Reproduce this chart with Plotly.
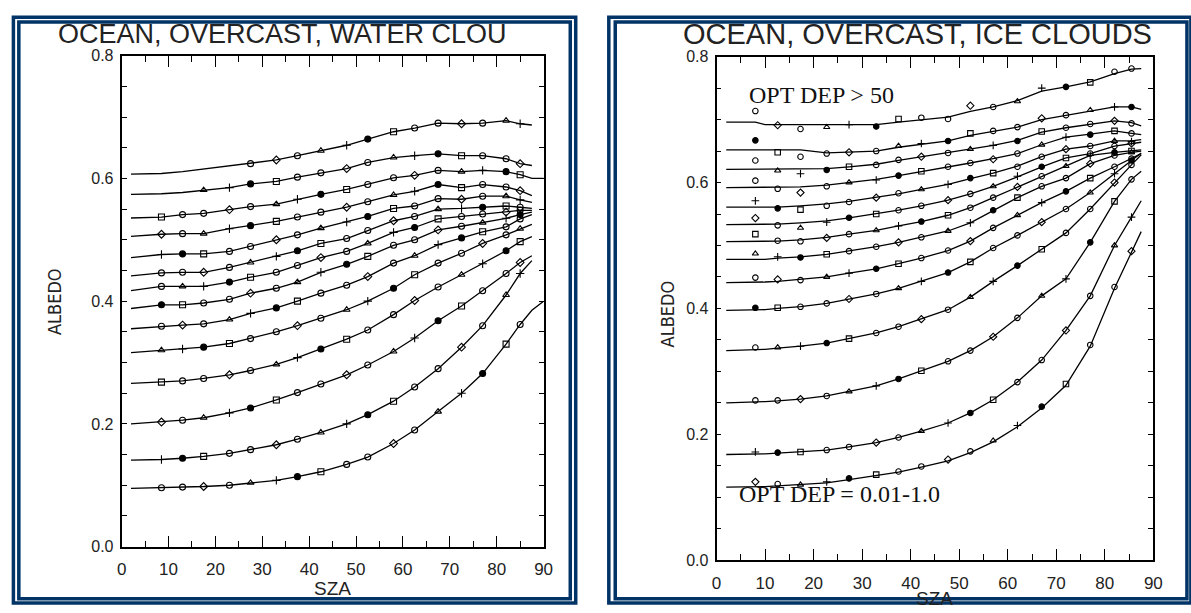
import plotly.graph_objects as go

W, H = 1191, 613

# ---------------- data: left panel (water cloud) ----------------
LEFT_SZA = [2, 8.5, 13, 17.5, 23, 27.5, 33, 37.5, 42.5, 48, 52.5, 58, 62.5, 67.5, 72.5, 77, 82, 85, 87.5, 90]
LEFT_CURVES = [
    [0.607, 0.608, 0.611, 0.615, 0.620, 0.624, 0.630, 0.637, 0.645, 0.654, 0.664, 0.676, 0.682, 0.690, 0.689, 0.690, 0.694, 0.689, 0.687, None],
    [0.574, 0.575, 0.577, 0.581, 0.585, 0.591, 0.595, 0.602, 0.609, 0.616, 0.626, 0.634, 0.637, 0.640, 0.637, 0.637, 0.632, 0.624, 0.621, None],
    [0.5355, 0.537, 0.541, 0.543, 0.549, 0.554, 0.558, 0.566, 0.574, 0.582, 0.590, 0.601, 0.605, 0.613, 0.611, 0.613, 0.611, 0.606, 0.600, 0.600],
    [0.5055, 0.509, 0.510, 0.510, 0.518, 0.523, 0.530, 0.537, 0.545, 0.553, 0.562, 0.573, 0.579, 0.590, 0.585, 0.590, 0.586, 0.580, 0.572, None],
    [0.471, 0.476, 0.477, 0.477, 0.481, 0.489, 0.500, 0.508, 0.519, 0.529, 0.538, 0.551, 0.555, 0.567, 0.566, 0.571, 0.571, 0.565, 0.561, None],
    [0.441, 0.446, 0.447, 0.447, 0.455, 0.463, 0.473, 0.482, 0.494, 0.502, 0.515, 0.531, 0.538, 0.550, 0.551, 0.553, 0.555, 0.553, 0.551, None],
    [0.417, 0.424, 0.424, 0.424, 0.431, 0.439, 0.447, 0.458, 0.471, 0.481, 0.494, 0.512, 0.520, 0.534, 0.538, 0.542, 0.545, 0.548, 0.548, None],
    [0.388, 0.394, 0.394, 0.397, 0.403, 0.413, 0.421, 0.431, 0.447, 0.460, 0.473, 0.491, 0.500, 0.516, 0.522, 0.528, 0.535, 0.541, 0.545, None],
    [0.355, 0.359, 0.361, 0.363, 0.370, 0.380, 0.389, 0.400, 0.413, 0.426, 0.440, 0.462, 0.474, 0.492, 0.503, 0.513, 0.521, 0.534, 0.541, None],
    [0.316, 0.320, 0.322, 0.325, 0.331, 0.339, 0.350, 0.360, 0.372, 0.386, 0.400, 0.421, 0.443, 0.462, 0.478, 0.494, 0.508, 0.518, 0.525, None],
    [0.266, 0.268, 0.270, 0.274, 0.280, 0.287, 0.297, 0.308, 0.322, 0.338, 0.353, 0.378, 0.401, 0.423, 0.443, 0.461, 0.482, 0.497, 0.505, None],
    [0.200, 0.203, 0.206, 0.210, 0.218, 0.226, 0.239, 0.251, 0.265, 0.280, 0.296, 0.318, 0.340, 0.368, 0.392, 0.417, 0.445, 0.463, 0.474, None],
    [0.141, 0.142, 0.144, 0.147, 0.152, 0.158, 0.166, 0.175, 0.186, 0.200, 0.215, 0.237, 0.260, 0.290, 0.325, 0.360, 0.410, 0.445, 0.466, None],
    [0.095, 0.096, 0.097, 0.098, 0.100, 0.104, 0.108, 0.114, 0.122, 0.134, 0.146, 0.168, 0.190, 0.220, 0.250, 0.282, 0.330, 0.362, 0.385, 0.400],
]
# index of the first SZA that carries a marker, per curve
LEFT_MARK_START = [5, 3, 1, 1, 1, 1, 1, 1, 1, 1, 1, 1, 1, 1]
LEFT_MARK_END = 18  # markers up to SZA 85

# ---------------- data: right panel (ice cloud) ----------------
RIGHT_SZA = [2, 8, 10, 12.6, 17.3, 22.7, 27.3, 32.9, 37.5, 42.2, 47.7, 52.3, 57, 62, 67, 72, 77, 82, 85.5, 87.5]
RIGHT_CURVES = [
    [0.696, 0.696, 0.692, 0.692, 0.692, 0.692, 0.692, 0.692, 0.696, 0.700, 0.704, 0.713, 0.720, 0.730, 0.745, 0.752, 0.760, 0.773, 0.780, 0.781],
    [0.652, 0.652, 0.652, 0.652, 0.652, 0.647, 0.648, 0.650, 0.656, 0.661, 0.666, 0.675, 0.681, 0.688, 0.700, 0.707, 0.714, 0.720, 0.720, 0.716],
    [0.621, 0.621, 0.621, 0.621, 0.621, 0.622, 0.625, 0.629, 0.635, 0.641, 0.647, 0.653, 0.659, 0.667, 0.680, 0.687, 0.693, 0.698, 0.695, 0.690],
    [0.592, 0.592, 0.592, 0.592, 0.593, 0.596, 0.600, 0.605, 0.611, 0.617, 0.624, 0.631, 0.638, 0.646, 0.660, 0.672, 0.677, 0.682, 0.678, 0.676],
    [0.561, 0.561, 0.561, 0.561, 0.563, 0.566, 0.570, 0.576, 0.582, 0.589, 0.597, 0.606, 0.615, 0.626, 0.641, 0.653, 0.658, 0.666, 0.666, 0.668],
    [0.533, 0.533, 0.533, 0.534, 0.536, 0.539, 0.544, 0.550, 0.556, 0.563, 0.572, 0.582, 0.594, 0.609, 0.625, 0.639, 0.646, 0.658, 0.662, 0.664],
    [0.506, 0.506, 0.506, 0.507, 0.509, 0.513, 0.518, 0.524, 0.531, 0.538, 0.548, 0.560, 0.576, 0.593, 0.610, 0.626, 0.643, 0.648, 0.650, 0.652],
    [0.478, 0.478, 0.478, 0.480, 0.482, 0.486, 0.491, 0.498, 0.505, 0.513, 0.523, 0.536, 0.556, 0.576, 0.594, 0.607, 0.630, 0.643, 0.648, 0.650],
    [0.441, 0.441, 0.442, 0.443, 0.446, 0.450, 0.456, 0.463, 0.471, 0.480, 0.492, 0.507, 0.528, 0.548, 0.568, 0.586, 0.607, 0.625, 0.638, 0.646],
    [0.397, 0.397, 0.398, 0.400, 0.403, 0.408, 0.415, 0.423, 0.432, 0.443, 0.457, 0.474, 0.496, 0.516, 0.537, 0.558, 0.584, 0.614, 0.635, 0.647],
    [0.333, 0.334, 0.335, 0.337, 0.340, 0.345, 0.352, 0.361, 0.371, 0.383, 0.398, 0.418, 0.443, 0.468, 0.494, 0.520, 0.558, 0.600, 0.628, 0.644],
    [0.250, 0.251, 0.252, 0.253, 0.256, 0.261, 0.268, 0.277, 0.288, 0.301, 0.316, 0.333, 0.355, 0.385, 0.420, 0.447, 0.505, 0.570, 0.605, 0.618],
    [0.168, 0.168, 0.169, 0.170, 0.172, 0.175, 0.180, 0.187, 0.195, 0.205, 0.218, 0.234, 0.255, 0.283, 0.318, 0.365, 0.420, 0.500, 0.545, 0.571],
    [0.116, 0.116, 0.117, 0.118, 0.120, 0.123, 0.128, 0.134, 0.140, 0.148, 0.158, 0.171, 0.188, 0.212, 0.242, 0.278, 0.340, 0.432, 0.490, 0.522],
]
RIGHT_MARK_SZA = [8, 12.6, 17.3, 22.7, 27.3, 32.9, 37.5, 42.2, 47.7, 52.3, 57, 62, 67, 72, 77, 82, 85.5]
RIGHT_MARKS = [
    [0.7135, 0.691, 0.685, 0.688, 0.692, 0.689, 0.701, 0.703, 0.701, 0.722, 0.720, 0.729, 0.750, 0.752, 0.759, 0.776, 0.781],
    [0.667, 0.648, 0.641, 0.646, 0.648, 0.650, 0.658, 0.662, 0.666, 0.678, 0.682, 0.688, 0.702, 0.707, 0.715, 0.720, 0.720],
    [0.635, 0.619, 0.614, 0.620, 0.625, 0.628, 0.636, 0.641, 0.647, 0.653, 0.659, 0.666, 0.681, 0.687, 0.693, 0.698, 0.694],
    [0.603, 0.590, 0.584, 0.594, 0.600, 0.604, 0.611, 0.618, 0.625, 0.631, 0.637, 0.646, 0.660, 0.672, 0.676, 0.682, 0.678],
    [0.571, 0.559, 0.557, 0.563, 0.569, 0.576, 0.583, 0.589, 0.597, 0.607, 0.615, 0.625, 0.641, 0.653, 0.658, 0.666, 0.665],
    [0.5436, 0.532, 0.528, 0.537, 0.544, 0.550, 0.556, 0.563, 0.572, 0.582, 0.594, 0.610, 0.625, 0.639, 0.646, 0.658, 0.662],
    [0.518, 0.5076, 0.5066, 0.512, 0.518, 0.524, 0.531, 0.538, 0.548, 0.560, 0.576, 0.593, 0.610, 0.626, 0.643, 0.648, 0.650],
    [0.487, 0.482, 0.481, 0.486, 0.491, 0.498, 0.505, 0.513, 0.523, 0.536, 0.556, 0.576, 0.594, 0.607, 0.630, 0.643, 0.648],
    [0.449, 0.446, 0.445, 0.450, 0.456, 0.463, 0.471, 0.480, 0.492, 0.507, 0.528, 0.548, 0.568, 0.586, 0.607, 0.625, 0.638],
    [0.401, 0.401, 0.4026, 0.408, 0.415, 0.423, 0.432, 0.443, 0.457, 0.474, 0.496, 0.516, 0.537, 0.558, 0.584, 0.614, 0.635],
    [0.338, 0.338, 0.340, 0.345, 0.352, 0.361, 0.371, 0.383, 0.398, 0.418, 0.443, 0.468, 0.494, 0.520, 0.558, 0.600, 0.628],
    [0.254, 0.254, 0.256, 0.261, 0.268, 0.277, 0.288, 0.301, 0.316, 0.333, 0.355, 0.385, 0.420, 0.447, 0.505, 0.570, 0.605],
    [0.172, 0.171, 0.172, 0.175, 0.180, 0.187, 0.195, 0.205, 0.218, 0.234, 0.255, 0.283, 0.318, 0.365, 0.420, 0.500, 0.545],
    [0.1245, 0.121, 0.120, 0.1245, 0.130, 0.136, 0.141, 0.149, 0.160, 0.173, 0.190, 0.214, 0.244, 0.280, 0.342, 0.434, 0.491],
]

X_TICKS = [0, 10, 20, 30, 40, 50, 60, 70, 80, 90]
Y_TICKS = [0.0, 0.2, 0.4, 0.6, 0.8]
Y_TICK_TEXT = ["0.0", "0.2", "0.4", "0.6", "0.8"]

LEFT_TITLE = "OCEAN, OVERCAST, WATER CLOU"
RIGHT_TITLE = "OCEAN, OVERCAST, ICE CLOUDS"
NOTE_TOP = "OPT DEP > 50"
NOTE_BOTTOM = "OPT DEP = 0.01-1.0"

# ---------------- styling ----------------
SYMS = ["circle-open", "diamond-open", "circle-open", "triangle-up-open",
        "cross-thin", "circle", "square-open", "circle-open"]
FRAME = "#003366"
SANS = "Liberation Sans, Arial, Helvetica, sans-serif"
NARROW = "Liberation Sans Narrow, DejaVu Sans Condensed, Liberation Sans, sans-serif"
SERIF = "Liberation Serif, Times New Roman, serif"
INK = "#222"


def px(x):
    return x / W


def py(y):
    return 1 - y / H


fig = go.Figure()

for i, ys in enumerate(LEFT_CURVES):
    fig.add_trace(go.Scatter(x=LEFT_SZA, y=ys, mode="lines", xaxis="x", yaxis="y",
                             line=dict(color="black", width=1.3), hoverinfo="skip"))
    s, e = LEFT_MARK_START[i], LEFT_MARK_END
    mx = LEFT_SZA[s:e]
    my = ys[s:e]
    fig.add_trace(go.Scatter(x=mx, y=my, mode="markers", xaxis="x", yaxis="y",
                             marker=dict(symbol=[SYMS[(3 * i + j) % len(SYMS)] for j in range(len(mx))],
                                         size=6, color="black", line=dict(color="black", width=1.1)),
                             hoverinfo="skip"))

for i, ys in enumerate(RIGHT_CURVES):
    fig.add_trace(go.Scatter(x=RIGHT_SZA, y=ys, mode="lines", xaxis="x2", yaxis="y2",
                             line=dict(color="black", width=1.3), hoverinfo="skip"))
    my = RIGHT_MARKS[i]
    fig.add_trace(go.Scatter(x=RIGHT_MARK_SZA, y=my, mode="markers", xaxis="x2", yaxis="y2",
                             marker=dict(symbol=[SYMS[(5 * i + j) % len(SYMS)] for j in range(len(my))],
                                         size=5.5, color="black", line=dict(color="black", width=1.1)),
                             hoverinfo="skip"))

xa = dict(range=[0, 90], tickvals=X_TICKS, ticks="inside", ticklen=11, tickwidth=1.3,
          tickcolor="black", showline=True, linecolor="black", linewidth=1.8, mirror="ticks",
          showgrid=False, zeroline=False, ticklabelstandoff=6,
          minor=dict(dtick=5, tick0=0, ticks="inside", ticklen=6, tickwidth=1.3, tickcolor="black"),
          tickfont=dict(family=SANS, size=17, color=INK))
ya = dict(range=[0, 0.8], tickvals=Y_TICKS, ticktext=Y_TICK_TEXT, ticks="inside", ticklen=5,
          tickwidth=1.3, tickcolor="black", showline=True, linecolor="black", linewidth=1.8,
          mirror="ticks", showgrid=False, zeroline=False, ticklabelstandoff=3,
          minor=dict(dtick=0.05, tick0=0, ticks="inside", ticklen=5, tickwidth=1.3, tickcolor="black"),
          tickfont=dict(family=SANS, size=16, color=INK))

fig.update_layout(
    width=W, height=H, margin=dict(l=0, r=0, t=0, b=0),
    paper_bgcolor="white", plot_bgcolor="white", showlegend=False,
    xaxis=dict(xa, domain=[px(118), px(545)], anchor="y"),
    yaxis=dict(ya, domain=[py(554), py(49)], anchor="x"),
    xaxis2=dict(xa, domain=[px(720), px(1162)], anchor="y2"),
    yaxis2=dict(ya, domain=[py(568), py(50)], anchor="x2"),
)

shapes = []
# double frames around each panel
for (x0, y0, x1, y1) in [(8.5, 9.5, 577.5, 612), (14, 14.5, 572, 607.5),
                         (611, 9.5, 1200, 612), (617.5, 14.5, 1196, 607.5)]:
    shapes.append(dict(type="rect", xref="paper", yref="paper",
                       x0=px(x0), x1=px(x1), y0=py(y1), y1=py(y0),
                       line=dict(color=FRAME, width=3.5), fillcolor="rgba(0,0,0,0)"))
fig.update_layout(shapes=shapes)

ann = [
    dict(text=LEFT_TITLE, x=px(52), y=py(27), xanchor="left", yanchor="middle",
         font=dict(family=SANS, size=27, color=INK)),
    dict(text=RIGHT_TITLE, x=px(684), y=py(27), xanchor="left", yanchor="middle",
         font=dict(family=SANS, size=29, color=INK)),
    dict(text="ALBEDO", x=px(50), y=py(302), textangle=-90, xanchor="center", yanchor="middle",
         font=dict(family=NARROW, size=18, color=INK)),
    dict(text="ALBEDO", x=px(670), y=py(315), textangle=-90, xanchor="center", yanchor="middle",
         font=dict(family=NARROW, size=18, color=INK)),
    dict(text="SZA", x=px(331), y=py(597), xanchor="center", yanchor="middle",
         font=dict(family=SANS, size=19, color=INK)),
    dict(text="SZA", x=px(941), y=py(607), xanchor="center", yanchor="middle",
         font=dict(family=SANS, size=19, color=INK)),
    dict(text=NOTE_TOP, x=px(751), y=py(89), xanchor="left", yanchor="middle",
         font=dict(family=SERIF, size=24, color="#111")),
    dict(text=NOTE_BOTTOM, x=px(741), y=py(500), xanchor="left", yanchor="middle",
         font=dict(family=SERIF, size=24, color="#111")),
]
for a in ann:
    a.update(xref="paper", yref="paper", showarrow=False)
fig.update_layout(annotations=ann)

fig.write_html("out.html")
